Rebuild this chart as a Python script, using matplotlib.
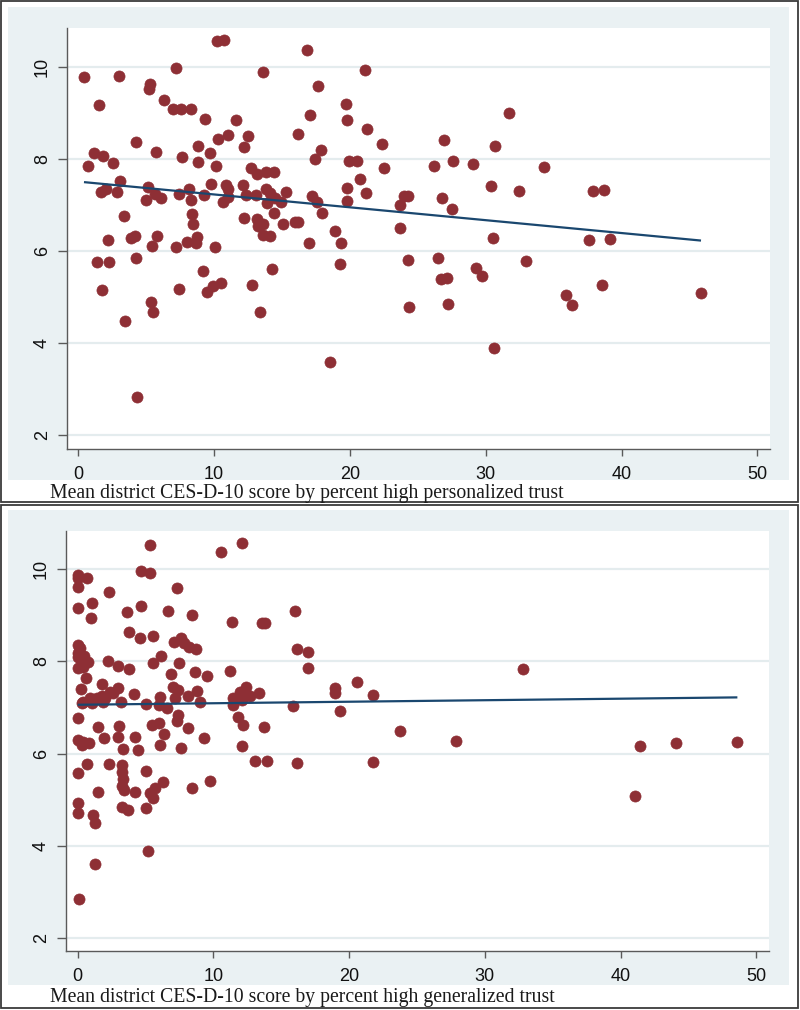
import matplotlib
matplotlib.use("Agg")
import matplotlib.pyplot as plt
from matplotlib.patches import Rectangle
import numpy as np

# ---------------- data ----------------
personal_x = [0.42, 0.69, 1.16, 1.55, 1.80, 1.70, 2.04, 2.58, 2.85, 3.00, 3.05, 3.34, 2.21, 3.86, 4.17,
              4.25, 5.13, 4.96, 5.28, 5.23, 5.74, 5.67, 6.09, 5.82, 5.43, 6.33, 6.95, 7.56, 8.30, 7.17,
              7.61, 7.44, 7.19, 8.15, 8.32, 8.37, 8.42, 8.03, 8.76, 8.65, 8.81, 8.81, 9.31, 9.26, 9.67,
              10.04, 10.12, 9.77, 10.19, 10.73, 10.31, 11.05, 10.88, 11.05, 11.00, 10.63, 11.61, 12.23, 12.47, 12.10,
              12.32, 12.23, 12.69, 13.14, 13.06, 13.16, 13.25, 13.62, 13.62, 14.12, 13.62, 13.80, 14.41, 13.80, 14.12,
              14.48, 14.93, 13.87, 14.41, 15.07, 15.27, 15.93, 16.16, 16.20, 16.82, 17.04, 17.23, 17.55, 17.45, 17.67,
              17.89, 17.97, 16.99, 18.90, 19.32, 19.71, 19.76, 19.93, 20.54, 19.79, 19.79, 20.74, 21.09, 21.26, 21.16,
              22.39, 22.51, 23.69, 23.69, 31.72, 26.95, 30.66, 26.21, 27.61, 29.06, 34.29, 30.41, 32.45, 37.88, 38.71,
              24.26, 23.98, 26.80, 27.50, 30.54, 37.60, 39.15, 1.35, 2.26, 4.22, 1.77, 3.44, 4.32, 5.33, 5.52,
              9.16, 7.42, 9.45, 9.94, 10.51, 12.77, 13.36, 14.29, 18.53, 19.29, 24.30, 26.50, 29.29, 29.70, 32.97,
              26.69, 27.17, 24.37, 27.22, 35.91, 36.33, 38.56, 45.85, 30.61]
personal_y = [9.79, 7.86, 8.14, 9.17, 8.07, 7.28, 7.35, 7.91, 7.28, 9.81, 7.52, 6.76, 6.24, 6.29, 6.33,
              8.38, 7.40, 7.11, 9.63, 9.52, 8.15, 7.25, 7.16, 6.33, 6.11, 9.28, 9.09, 9.09, 9.09, 9.98,
              8.04, 7.25, 6.09, 7.35, 7.12, 6.80, 6.59, 6.20, 6.30, 6.18, 8.29, 7.93, 8.88, 7.23, 8.14,
              6.09, 7.85, 7.47, 10.56, 10.58, 8.43, 8.52, 7.43, 7.34, 7.18, 7.07, 8.85, 8.27, 8.51, 7.43,
              7.22, 6.71, 7.80, 7.67, 7.23, 6.69, 6.54, 6.58, 6.35, 6.33, 9.89, 7.71, 7.71, 7.35, 7.27,
              7.15, 7.07, 7.05, 6.83, 6.58, 7.28, 6.64, 6.64, 8.54, 10.38, 8.95, 7.20, 7.07, 8.01, 9.59,
              8.20, 6.83, 6.18, 6.43, 6.18, 9.20, 8.85, 7.96, 7.96, 7.38, 7.09, 7.56, 9.93, 8.65, 7.27,
              8.33, 7.80, 7.00, 6.51, 9.01, 8.41, 8.28, 7.86, 7.97, 7.89, 7.83, 7.41, 7.30, 7.30, 7.32,
              7.19, 7.19, 7.15, 6.92, 6.28, 6.25, 6.26, 5.77, 5.77, 5.85, 5.15, 4.48, 2.83, 4.90, 4.67,
              5.57, 5.17, 5.12, 5.25, 5.31, 5.26, 4.67, 5.61, 3.60, 5.73, 5.80, 5.85, 5.64, 5.46, 5.78,
              5.39, 5.41, 4.78, 4.85, 5.04, 4.84, 5.26, 5.08, 3.90]

general_x = [5.33, 4.64, 5.33, 0.00, 0.05, 0.66, 0.00, 2.28, 7.34, 0.00, 1.03, 1.00, 3.66, 4.64, 6.68,
             8.42, 3.80, 4.59, 5.57, 7.10, 7.59, 7.83, 8.22, 8.72, 0.00, 0.17, 0.00, 0.05, 0.47, 0.23,
             0.78, 0.00, 0.41, 2.26, 2.99, 3.75, 5.57, 6.14, 7.47, 8.64, 9.51, 6.88, 0.61, 0.24, 1.77,
             2.99, 2.38, 2.62, 0.41, 0.91, 1.03, 1.40, 1.77, 2.01, 1.89, 0.29, 3.19, 4.15, 5.03, 6.06,
             6.01, 6.56, 7.05, 7.41, 7.17, 8.15, 8.77, 9.01, 0.05, 1.52, 3.04, 5.45, 5.99, 7.41, 7.34,
             8.15, 6.36, 0.05, 0.41, 0.85, 0.29, 1.96, 2.99, 4.22, 3.32, 4.42, 6.06, 7.59, 9.31, 0.05,
             0.71, 2.31, 3.24, 3.28, 3.33, 3.24, 3.40, 5.03, 4.22, 1.52, 5.33, 5.57, 5.70, 6.26, 8.40,
             9.75, 0.05, 0.00, 1.15, 1.27, 3.24, 3.73, 5.03, 5.20, 1.27, 0.10, 13.07, 13.93, 16.14, 21.78,
             10.54, 12.11, 11.39, 13.58, 13.80, 16.04, 16.18, 17.00, 17.00, 11.22, 11.96, 12.41, 12.21, 12.70, 13.36,
             11.47, 11.42, 12.08, 15.89, 18.96, 18.96, 20.56, 19.33, 21.78, 11.84, 12.21, 13.75, 12.13, 32.84, 27.88,
             23.75, 41.46, 44.09, 48.61, 41.07]
general_y = [10.53, 9.96, 9.92, 9.87, 9.80, 9.81, 9.62, 9.51, 9.58, 9.16, 9.27, 8.93, 9.08, 9.19, 9.09,
             9.00, 8.64, 8.50, 8.54, 8.43, 8.51, 8.39, 8.32, 8.27, 8.36, 8.28, 8.18, 8.10, 8.12, 8.03,
             7.99, 7.86, 7.88, 8.01, 7.89, 7.84, 7.97, 8.12, 7.97, 7.78, 7.69, 7.72, 7.65, 7.40, 7.51,
             7.43, 7.34, 7.31, 7.13, 7.20, 7.09, 7.20, 7.24, 7.21, 7.13, 7.09, 7.13, 7.29, 7.07, 7.22,
             7.06, 7.00, 7.44, 7.38, 7.21, 7.26, 7.36, 7.13, 6.77, 6.58, 6.60, 6.62, 6.67, 6.84, 6.71,
             6.55, 6.43, 6.30, 6.26, 6.23, 6.19, 6.33, 6.36, 6.36, 6.10, 6.07, 6.19, 6.12, 6.33, 5.58,
             5.77, 5.78, 5.76, 5.61, 5.45, 5.31, 5.22, 5.63, 5.18, 5.16, 5.14, 5.03, 5.25, 5.39, 5.26,
             5.41, 4.93, 4.71, 4.67, 4.49, 4.85, 4.78, 4.83, 3.90, 3.61, 2.85, 5.85, 5.85, 5.79, 5.81,
             10.36, 10.56, 8.86, 8.84, 8.84, 9.09, 8.27, 8.20, 7.85, 7.80, 7.34, 7.44, 7.27, 7.24, 7.31,
             7.21, 7.06, 7.16, 7.04, 7.42, 7.31, 7.56, 6.93, 7.27, 6.80, 6.62, 6.57, 6.17, 7.83, 6.27,
             6.50, 6.17, 6.24, 6.25, 5.08]

# linear fit (intercept, slope)
fit_personal = (7.512, -0.02796)
fit_general = (7.06, 0.00329)

x_ticks = [0, 10, 20, 30, 40, 50]
y_ticks = [2, 4, 6, 8, 10]
captions = ["Mean district CES-D-10 score by percent high personalized trust",
            "Mean district CES-D-10 score by percent high generalized trust"]

# ---------------- style ----------------
W, H = 800, 1010
MAROON = "#8E2F35"
NAVY = "#1A476F"
BLUISH = "#EAF1F3"
GRID = "#E4ECEE"
AXC = "#5A5A5A"

fig = plt.figure(figsize=(W / 100, H / 100), dpi=100)
fig.patch.set_facecolor("white")


def fbox(x0, y0, x1, y1):
    """pixel box (top-left origin) -> figure fraction [l, b, w, h]"""
    return [x0 / W, 1 - y1 / H, (x1 - x0) / W, (y1 - y0) / H]


def add_rect(x0, y0, x1, y1, **kw):
    l, b, w, h = fbox(x0, y0, x1, y1)
    fig.patches.append(Rectangle((l, b), w, h, transform=fig.transFigure, **kw))


panels = [
    dict(border=(1, 1, 798, 502), blue=(8, 7, 789, 480), ax=(67, 28, 770, 449),
         xlim=(-0.83, 50.93), ylim=(1.70, 10.85), x=personal_x, y=personal_y,
         fit=fit_personal, cap=captions[0], cap_y=498),
    dict(border=(1, 505, 798, 1008), blue=(8, 510, 789, 985), ax=(66, 531, 769, 951),
         xlim=(-0.86, 50.94), ylim=(1.725, 10.825), x=general_x, y=general_y,
         fit=fit_general, cap=captions[1], cap_y=1002),
]

for p in panels:
    add_rect(*p["border"], fill=False, edgecolor="#3A3A3A", lw=1.3, zorder=-10)
    add_rect(*p["blue"], facecolor=BLUISH, edgecolor="none", zorder=-10)
    ax = fig.add_axes(fbox(*p["ax"]))
    ax.set_zorder(5)
    ax.set_facecolor("white")
    ax.set_xlim(*p["xlim"])
    ax.set_ylim(*p["ylim"])
    for s in ["top", "right"]:
        ax.spines[s].set_visible(False)
    for s in ["left", "bottom"]:
        ax.spines[s].set_color(AXC)
        ax.spines[s].set_linewidth(1.0)
    ax.set_xticks(x_ticks)
    ax.set_yticks(y_ticks)
    ax.tick_params(axis="x", length=5, width=1, color=AXC, pad=7,
                   labelsize=13, labelcolor="#111111")
    ax.tick_params(axis="y", length=6.5, width=1, color=AXC, pad=5,
                   labelsize=13, labelcolor="#111111", labelrotation=90)
    for lab in ax.get_yticklabels():
        lab.set_va("center")
    for lab in ax.get_xticklabels() + ax.get_yticklabels():
        lab.set_family(["Liberation Sans", "DejaVu Sans"])
    ax.grid(axis="y", color=GRID, lw=1.6, zorder=0)
    ax.set_axisbelow(True)
    xs = np.array(p["x"])
    ys = np.array(p["y"])
    ax.scatter(xs, ys, s=64, color=MAROON, edgecolors=MAROON, linewidths=0.5, zorder=3)
    b0, b1 = p["fit"]
    xl = np.array([xs.min(), xs.max()])
    ax.plot(xl, b0 + b1 * xl, color=NAVY, lw=1.6, zorder=4, solid_capstyle="butt")
    fig.text(50 / W, 1 - p["cap_y"] / H, p["cap"], ha="left", va="baseline",
             fontsize=14.2, family=["Liberation Serif", "DejaVu Serif"], color="#1A1A1A")

fig.savefig("out.png", dpi=100)
